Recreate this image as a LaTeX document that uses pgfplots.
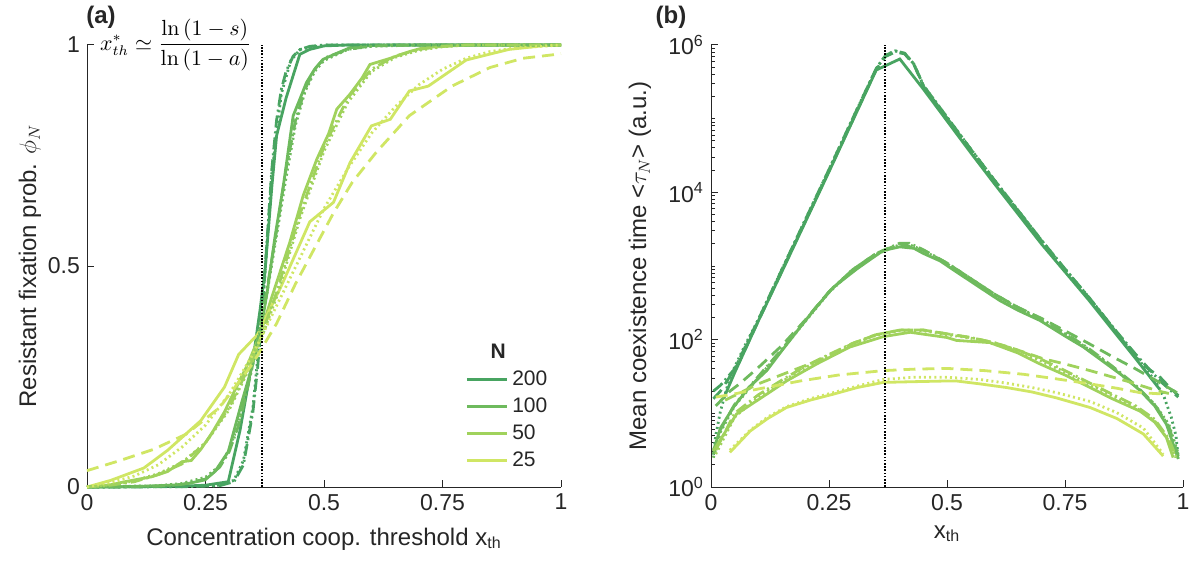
\documentclass[border=0pt]{standalone}
\usepackage{pgfplots}
\pgfplotsset{compat=1.18}
\usepackage[no-math]{fontspec}
\setmainfont{Liberation Sans}
\definecolor{cA}{RGB}{72,164,97}
\definecolor{cB}{RGB}{110,186,93}
\definecolor{cC}{RGB}{160,210,92}
\definecolor{cD}{RGB}{208,230,100}
\definecolor{axc}{RGB}{38,38,38}
\pgfplotsset{
  common/.style={
    scale only axis, width=237pt, height=221pt,
    xmin=0, xmax=1, clip=false,
    axis lines=left, axis line style={-, color=axc, line width=0.5pt},
    tick align=inside, major tick length=3.5pt, minor tick length=2pt,
    tick style={color=axc, line width=0.5pt},
    tick label style={font=\fontsize{11.5}{13}\selectfont, color=axc},
    label style={font=\fontsize{12}{14}\selectfont, color=axc},
    xtick={0,0.25,0.5,0.75,1}, xticklabels={0,0.25,0.5,0.75,1},
  },
  sol/.style={line width=1.4pt, solid},
  dd/.style={line width=1.4pt, dash pattern=on 6pt off 2pt on 1pt off 2pt},
  dt/.style={line width=1.4pt, dash pattern=on 1pt off 1.6pt},
  ds/.style={line width=1.4pt, dash pattern=on 6pt off 3.5pt},
}
\begin{document}
\begin{tikzpicture}
\path[use as bounding box] (0,0) rectangle (596.5pt,281.5pt);
% ---------------- panel (a)
\begin{axis}[common, at={(43.5pt,38pt)}, anchor=south west,
  ymin=0, ymax=1, ytick={0,0.5,1}, yticklabels={0,0.5,1},
  xlabel={Concentration coop. threshold x\textsubscript{th}},
  ylabel={Resistant fixation prob. $\phi_N$},
  xlabel style={at={(axis description cs:0.5,0)}, yshift=-29pt, anchor=base},
  ylabel style={at={(axis description cs:-0.1203,0.5)}, anchor=center},
  legend style={at={(axis description cs:0.785,0.342)}, anchor=north west, draw=none, fill=none,
    font=\fontsize{10.5}{12}\selectfont, row sep=0.6pt, text=axc},
  legend cell align=left,
  legend image code/.code={\draw[#1] (0pt,0pt) -- (20pt,0pt);},
]
\addlegendimage{empty legend}\addlegendentry{\hspace*{-11pt}\textbf{N}}
% N=200
\addplot[sol, cA] coordinates {(0,0) (0.1,0.0005) (0.2,0.002) (0.25,0.004) (0.298,0.012) (0.323,0.129) (0.354,0.317) (0.365,0.40) (0.376,0.494) (0.39,0.68) (0.40,0.795) (0.42,0.88) (0.449,0.979) (0.47,0.99) (0.5,0.998) (0.55,1) (1,1)};
\addlegendentry{200}
\addplot[sol, cB] coordinates {(0,0) (0.1,0.001) (0.2,0.005) (0.249,0.016) (0.27,0.035) (0.298,0.08) (0.326,0.19) (0.345,0.26) (0.365,0.345) (0.38,0.44) (0.397,0.569) (0.414,0.68) (0.435,0.84) (0.45,0.88) (0.463,0.915) (0.48,0.945) (0.499,0.968) (0.52,0.978) (0.555,0.994) (0.6,0.999) (0.65,1) (1,1)};
\addlegendentry{100}
\addplot[sol, cC] coordinates {(0,0) (0.05,0.005) (0.08,0.012) (0.136,0.023) (0.17,0.035) (0.2,0.057) (0.22,0.06) (0.24,0.085) (0.263,0.121) (0.29,0.17) (0.312,0.219) (0.34,0.28) (0.365,0.345) (0.39,0.43) (0.428,0.554) (0.456,0.659) (0.485,0.742) (0.51,0.80) (0.527,0.855) (0.555,0.889) (0.58,0.925) (0.597,0.956) (0.64,0.97) (0.68,0.985) (0.71,0.994) (0.8,1) (1,1)};
\addlegendentry{50}
\addplot[sol, cD] coordinates {(0,0) (0.05,0.015) (0.1,0.035) (0.12,0.043) (0.17,0.083) (0.24,0.15) (0.29,0.226) (0.32,0.30) (0.36,0.345) (0.41,0.455) (0.47,0.60) (0.52,0.644) (0.555,0.734) (0.6,0.817) (0.64,0.832) (0.68,0.896) (0.72,0.907) (0.8,0.966) (0.89,0.99) (0.96,0.998) (1,1)};
\addlegendentry{25}
\addplot[dd, cA, forget plot] coordinates {(0,0) (0.2,0.0005) (0.28,0.003) (0.31,0.012) (0.33,0.05) (0.35,0.17) (0.36,0.27) (0.37,0.40) (0.38,0.56) (0.39,0.72) (0.40,0.83) (0.41,0.90) (0.42,0.94) (0.435,0.975) (0.45,0.99) (0.47,0.997) (0.5,1) (1,1)};
\addplot[dt, cA, forget plot] coordinates {(0,0) (0.2,0.0008) (0.28,0.004) (0.31,0.015) (0.33,0.06) (0.35,0.18) (0.37,0.40) (0.39,0.71) (0.41,0.89) (0.43,0.965) (0.45,0.99) (0.5,1) (1,1)};
\addplot[dd, cB, forget plot] coordinates {(0,0) (0.15,0.002) (0.2,0.006) (0.25,0.018) (0.28,0.045) (0.3,0.08) (0.32,0.14) (0.34,0.23) (0.36,0.33) (0.38,0.45) (0.40,0.58) (0.42,0.72) (0.44,0.83) (0.46,0.90) (0.48,0.945) (0.5,0.97) (0.55,0.99) (0.6,0.998) (0.7,1) (1,1)};
\addplot[dt, cB, forget plot] coordinates {(0,0) (0.15,0.003) (0.2,0.008) (0.25,0.022) (0.28,0.048) (0.3,0.085) (0.32,0.145) (0.34,0.23) (0.36,0.325) (0.38,0.44) (0.40,0.57) (0.42,0.70) (0.44,0.82) (0.46,0.895) (0.48,0.94) (0.5,0.965) (0.55,0.99) (0.6,0.997) (0.7,1) (1,1)};
\addplot[dd, cC, forget plot] coordinates {(0,0) (0.05,0.004) (0.1,0.012) (0.15,0.028) (0.2,0.052) (0.25,0.10) (0.3,0.18) (0.35,0.29) (0.4,0.44) (0.45,0.62) (0.5,0.77) (0.55,0.88) (0.6,0.945) (0.65,0.975) (0.7,0.99) (0.75,0.997) (0.8,1) (1,1)};
\addplot[dt, cC, forget plot] coordinates {(0,0) (0.05,0.005) (0.1,0.014) (0.15,0.03) (0.2,0.055) (0.25,0.10) (0.3,0.175) (0.35,0.285) (0.4,0.43) (0.45,0.61) (0.5,0.76) (0.55,0.87) (0.6,0.94) (0.65,0.972) (0.7,0.988) (0.75,0.996) (0.8,1) (1,1)};
\addplot[dt, cD, forget plot] coordinates {(0,0) (0.05,0.01) (0.1,0.025) (0.15,0.05) (0.2,0.09) (0.25,0.14) (0.3,0.21) (0.35,0.30) (0.4,0.41) (0.45,0.52) (0.5,0.63) (0.55,0.72) (0.6,0.80) (0.65,0.86) (0.7,0.91) (0.75,0.945) (0.8,0.97) (0.85,0.985) (0.9,0.993) (1,1)};
\addplot[ds, cD, forget plot] coordinates {(0,0.037) (0.07,0.06) (0.14,0.085) (0.21,0.12) (0.28,0.18) (0.35,0.28) (0.4,0.37) (0.44,0.46) (0.48,0.54) (0.52,0.62) (0.56,0.69) (0.61,0.757) (0.68,0.84) (0.77,0.907) (0.85,0.949) (0.92,0.97) (1,0.98)};
\addplot[black, line width=0.8pt, dash pattern=on 0.8pt off 0.8pt, forget plot] coordinates {(0.369,0) (0.369,1)};
\node[anchor=east, inner sep=0pt, font=\fontsize{10.5}{12}\selectfont] at (axis cs:0.3475,1) {$\displaystyle x^*_{th}\simeq\frac{\ln\left(1-s\right)}{\ln\left(1-a\right)}$};
\end{axis}
% ---------------- panel (b)
\begin{axis}[common, at={(355.5pt,38pt)}, anchor=south west, width=236pt,
  ymode=log, ymin=1, ymax=1000000,
  ytick={1,100,10000,1000000},
  yticklabels={10\textsuperscript{0},10\textsuperscript{2},10\textsuperscript{4},10\textsuperscript{6}},
  minor ytick={2,3,4,5,6,7,8,9,10,20,30,40,50,60,70,80,90,200,300,400,500,600,700,800,900,1000,2000,3000,4000,5000,6000,7000,8000,9000,20000,30000,40000,50000,60000,70000,80000,90000,100000,200000,300000,400000,500000,600000,700000,800000,900000},
  xlabel={x\textsubscript{th}},
  ylabel={Mean coexistence time <$\tau_N$> (a.u.)},
  xlabel style={at={(axis description cs:0.5,0)}, yshift=-25.5pt, anchor=base},
  ylabel style={at={(axis description cs:-0.1504,0.5)}, anchor=center},
]
% N=200
\addplot[sol, cA] coordinates {(0.03,17.8) (0.05,35.5) (0.1,178) (0.15,832) (0.2,3981) (0.25,19055) (0.3,93325) (0.35,457088) (0.40,645654) (0.45,251189) (0.5,93325) (0.55,34674) (0.6,13183) (0.65,5129) (0.7,1995) (0.75,832) (0.8,347) (0.85,138) (0.9,55) (0.95,21.4)};
\addplot[dd, cA] coordinates {(0.005,20) (0.02,24) (0.05,40) (0.1,186) (0.15,891) (0.2,4266) (0.25,20417) (0.3,100000) (0.35,478630) (0.37,724436) (0.39,831764) (0.41,776247) (0.43,549541) (0.45,281838) (0.5,104713) (0.55,38905) (0.6,14791) (0.65,5754) (0.7,2239) (0.75,912) (0.8,380) (0.85,151) (0.9,63) (0.95,28) (0.99,16.6)};
\addplot[dt, cA] coordinates {(0.005,2.75) (0.01,5) (0.02,10.7) (0.04,31) (0.07,79) (0.1,186) (0.15,891) (0.2,4266) (0.25,20417) (0.3,100000) (0.35,478630) (0.37,724436) (0.39,831764) (0.41,776247) (0.43,549541) (0.45,281838) (0.5,104713) (0.55,38905) (0.6,14791) (0.65,5754) (0.7,2239) (0.75,912) (0.8,380) (0.85,151) (0.9,60) (0.94,28) (0.96,16.6) (0.975,8.9) (0.985,5) (0.99,2.5)};
\addplot[ds, cA] coordinates {(0.005,15.8) (0.02,20) (0.04,31.6) (0.06,50) (0.1,178) (0.15,851) (0.2,4074) (0.25,19500) (0.3,95000) (0.35,465000) (0.37,700000) (0.39,800000) (0.41,760000) (0.43,540000) (0.45,275000) (0.5,102000) (0.55,38000) (0.6,14500) (0.65,5650) (0.7,2200) (0.75,895) (0.8,372) (0.85,148) (0.9,58) (0.923,41.7) (0.95,31.6) (0.965,25) (0.99,17.4)};
% N=100
\addplot[sol, cB] coordinates {(0.005,3.09) (0.02,6.31) (0.047,12.0) (0.08,22.4) (0.118,38.0) (0.15,70.8) (0.189,148) (0.22,263) (0.259,513) (0.309,912) (0.34,1259) (0.365,1622) (0.40,1820) (0.43,1738) (0.45,1479) (0.485,1175) (0.52,832) (0.56,562) (0.612,339) (0.65,251) (0.697,182) (0.75,112) (0.789,79.4) (0.838,46.8) (0.87,33.1) (0.909,20.4) (0.94,12.6) (0.965,7.08) (0.99,2.40)};
\addplot[dd, cB] coordinates {(0.005,2.8) (0.02,6.0) (0.05,13.2) (0.1,31.6) (0.15,74) (0.2,182) (0.25,447) (0.3,891) (0.35,1479) (0.4,2042) (0.42,2042) (0.45,1660) (0.5,1096) (0.55,676) (0.6,417) (0.65,275) (0.7,191) (0.75,123) (0.8,76) (0.85,43.7) (0.9,24) (0.94,13.2) (0.97,6.6) (0.99,2.6)};
\addplot[dt, cB] coordinates {(0.005,2.5) (0.02,5.6) (0.05,12.6) (0.1,30.2) (0.15,72.4) (0.2,178) (0.25,437) (0.3,871) (0.35,1445) (0.4,1950) (0.42,1950) (0.45,1622) (0.5,1072) (0.55,661) (0.6,407) (0.65,269) (0.7,186) (0.75,120) (0.8,74) (0.85,42.7) (0.9,23.4) (0.94,13.2) (0.97,7.1) (0.99,2.8)};
\addplot[ds, cB] coordinates {(0.01,12.6) (0.04,20) (0.06,25) (0.1,41.7) (0.15,83) (0.2,186) (0.25,447) (0.3,891) (0.35,1479) (0.4,1995) (0.45,1622) (0.5,1096) (0.55,676) (0.6,417) (0.65,275) (0.7,195) (0.75,132) (0.8,89) (0.85,59) (0.9,40) (0.95,26.3) (0.99,18.6)};
% N=50
\addplot[sol, cC] coordinates {(0.005,3.09) (0.054,9.77) (0.118,18.2) (0.16,27.5) (0.224,46.8) (0.294,79.4) (0.365,110) (0.422,126) (0.5,107) (0.52,97.7) (0.591,91.2) (0.65,66.1) (0.697,46.8) (0.75,33.1) (0.803,22.4) (0.85,15.8) (0.909,10.7) (0.94,7.6) (0.965,4.68) (0.979,2.51)};
\addplot[dd, cC] coordinates {(0.01,3.16) (0.05,10) (0.1,17.8) (0.15,28.2) (0.2,43.7) (0.25,63) (0.3,89) (0.35,117) (0.4,135) (0.45,135) (0.5,120) (0.55,107) (0.6,91) (0.65,72) (0.7,54) (0.75,38) (0.8,26.3) (0.85,18.2) (0.9,12.6) (0.94,8.3) (0.97,4.5) (0.985,2.6)};
\addplot[dt, cC] coordinates {(0.01,2.8) (0.05,8.9) (0.1,16.6) (0.15,26.9) (0.2,41.7) (0.25,61.7) (0.3,87) (0.35,115) (0.4,132) (0.45,132) (0.5,117) (0.55,105) (0.6,87) (0.65,69) (0.7,51) (0.75,36.3) (0.8,25.1) (0.85,17.4) (0.9,12) (0.94,7.9) (0.97,4.2) (0.985,2.5)};
\addplot[ds, cC] coordinates {(0.03,15.1) (0.1,25.1) (0.18,39.8) (0.245,57.5) (0.3,89) (0.35,117) (0.4,135) (0.45,135) (0.5,120) (0.55,107) (0.6,91) (0.64,76) (0.704,55) (0.75,46.8) (0.803,38) (0.88,27.5) (0.944,20.4) (0.97,18.6)};
% N=25
\addplot[sol, cD] coordinates {(0.04,2.95) (0.083,5.75) (0.12,8.5) (0.16,12.0) (0.21,15.1) (0.259,18.2) (0.31,22.4) (0.365,26.3) (0.43,26.9) (0.5,27.5) (0.52,27.5) (0.57,25.1) (0.626,22.4) (0.68,19.5) (0.732,16.2) (0.803,12.0) (0.86,8.5) (0.916,5.25) (0.958,2.63)};
\addplot[dt, cD] coordinates {(0.04,3.16) (0.083,5.9) (0.12,8.9) (0.16,12.3) (0.21,15.8) (0.259,19.1) (0.31,23.4) (0.365,28.8) (0.43,30.9) (0.5,30.9) (0.57,28.8) (0.626,25.7) (0.68,22.4) (0.732,19.1) (0.803,14.5) (0.86,10.2) (0.916,6.3) (0.958,2.8)};
\addplot[ds, cD] coordinates {(0.01,16.6) (0.047,18.2) (0.1,21.4) (0.189,27.5) (0.27,33.1) (0.365,38) (0.43,39.8) (0.5,40.7) (0.58,38) (0.662,33.9) (0.73,29.5) (0.803,25.1) (0.86,21.9) (0.909,19.1) (0.965,18.2)};
\addplot[black, line width=0.8pt, dash pattern=on 0.8pt off 0.8pt] coordinates {(0.369,1) (0.369,1000000)};
\end{axis}
\node[font=\bfseries\fontsize{12}{14}\selectfont, color=axc] at (50.5pt,272.75pt) {(a)};
\node[font=\bfseries\fontsize{12}{14}\selectfont, color=axc] at (335.5pt,272.75pt) {(b)};
\end{tikzpicture}
\end{document}
